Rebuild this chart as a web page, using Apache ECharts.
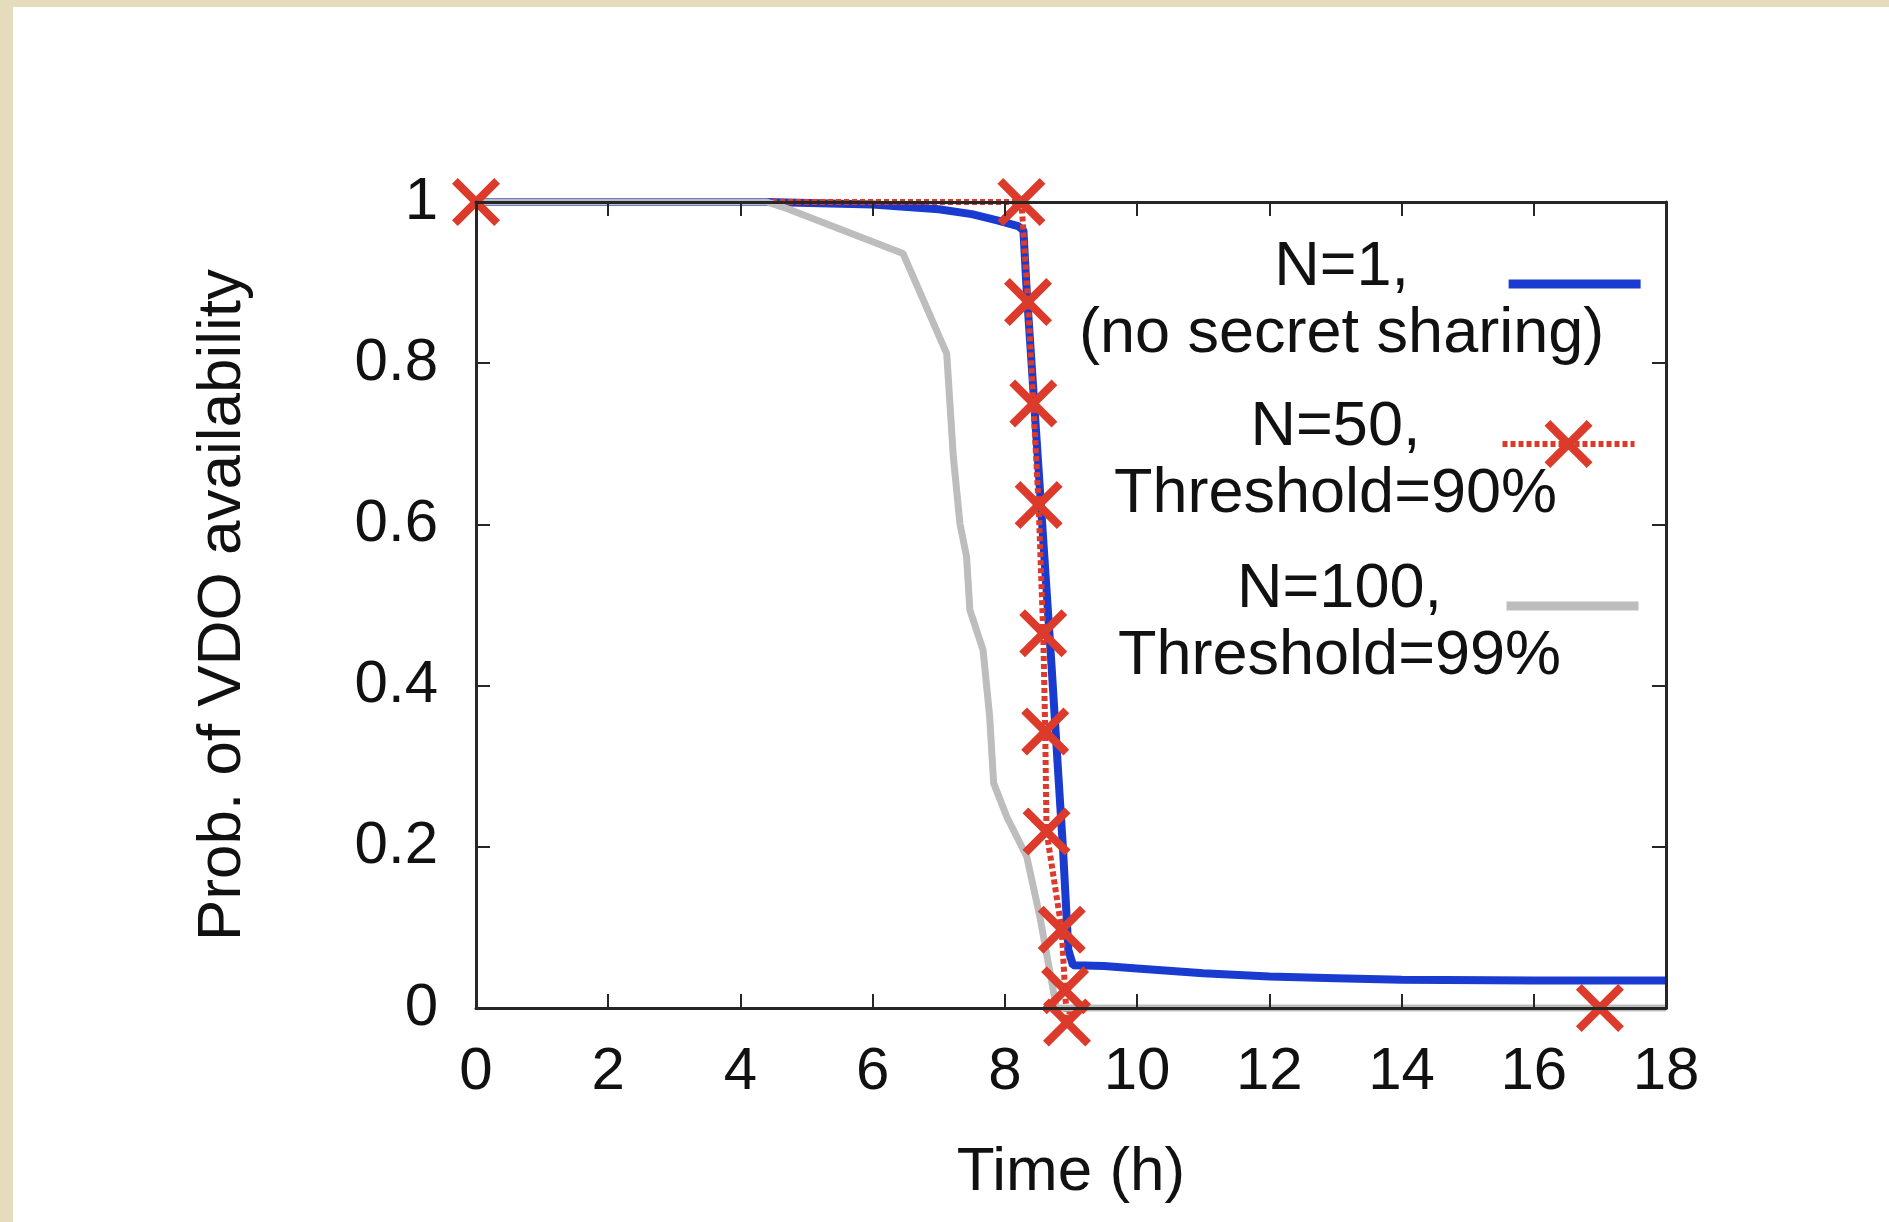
<!DOCTYPE html>
<html>
<head>
<meta charset="utf-8">
<script src="https://cdn.jsdelivr.net/npm/echarts@6/dist/echarts.min.js"></script>
<style>
  html, body { margin: 0; padding: 0; background: #e4dcbc; }
  #paper { position: absolute; left: 13px; top: 7px; right: 0; bottom: 0; background: #ffffff; }
  #chart { position: absolute; left: 0; top: 0; width: 1889px; height: 1222px; }
</style>
</head>
<body>
<div id="paper"></div>
<div id="chart"></div>
<script>
// N=1 (no secret sharing)
var timeN1  = [0, 4.4, 6, 7, 7.5, 7.9, 8.2, 8.28, 8.33, 8.43, 8.53, 8.63, 8.71, 8.8, 8.88, 8.96, 9.03, 9.5, 10, 11, 12, 13, 14, 16, 18];
var availN1 = [1, 1, 0.997, 0.991, 0.985, 0.977, 0.97, 0.965, 0.89, 0.767, 0.643, 0.519, 0.419, 0.3, 0.196, 0.072, 0.053, 0.052, 0.049, 0.043, 0.039, 0.037, 0.035, 0.034, 0.034];

// N=50, threshold 90%  (marked = 1 -> draw an X at that point)
var timeN50   = [0, 8.25, 8.35, 8.43, 8.51, 8.58, 8.61, 8.63, 8.86, 8.91, 8.94, 9.0, 17.0, 18];
var availN50  = [1, 1, 0.876, 0.75, 0.624, 0.465, 0.343, 0.219, 0.097, 0.022, -0.018, 0, 0, 0];
var markedN50 = [1, 1, 1, 1, 1, 1, 1, 1, 1, 1, 1, 0, 1, 0];

// N=100, threshold 99%
var timeN100  = [0, 4.4, 4.7, 6.46, 7.12, 7.22, 7.32, 7.42, 7.47, 7.67, 7.77, 7.83, 8.03, 8.33, 8.53, 8.78, 18];
var availN100 = [1, 1, 0.992, 0.936, 0.812, 0.684, 0.601, 0.56, 0.494, 0.444, 0.361, 0.279, 0.237, 0.188, 0.113, 0, 0];

var seriesNames = ['N1', 'N50', 'N100'];
var legendLines = [
  ['N=1,', '(no secret sharing)'],
  ['N=50,', 'Threshold=90%'],
  ['N=100,', 'Threshold=99%']
];
var xTicks = [0, 18, 2];
var yTicks = [0, 1, 0.2];

var FONT = "'Liberation Sans', Arial, Helvetica, sans-serif";
var BLUE = '#1a3bd0', RED = '#dc3a2a', GRAY = '#bdbdbd', INK = '#111111', AXIS = '#262626';
var xMark = 'path://M0,1.2L1.2,0L5,3.8L8.8,0L10,1.2L6.2,5L10,8.8L8.8,10L5,6.2L1.2,10L0,8.8L3.8,5Z';

function pairs(xs, ys) {
  return xs.map(function (x, i) { return [x, ys[i]]; });
}

var n50Data = timeN50.map(function (x, i) {
  var item = { value: [x, availN50[i]] };
  if (!markedN50[i]) item.symbol = 'none';
  return item;
});

function legendFor(idx, left, top, iconH, icon) {
  var item = { name: seriesNames[idx] };
  if (icon) item.icon = icon;
  return {
    data: [item],
    left: left, top: top, padding: 0,
    orient: 'vertical', align: 'right',
    itemWidth: 132, itemHeight: iconH,
    selectedMode: false,
    lineStyle: { width: 6 },
    formatter: function () {
      return '{e| }\n{t|' + legendLines[idx][0] + '}\n{t|' + legendLines[idx][1] + '}';
    },
    textStyle: {
      rich: {
        e: { fontSize: 10, lineHeight: 35 },
        t: { fontFamily: FONT, fontSize: 63, lineHeight: 67, color: INK, width: 324, align: 'center' }
      }
    }
  };
}

var chart = echarts.init(document.getElementById('chart'), null, { renderer: 'canvas' });

var axisLineStyle = { show: true, onZero: false, lineStyle: { color: AXIS, width: 3 } };
var tickStyle = { show: true, inside: true, length: 14, lineStyle: { color: AXIS, width: 2 } };

chart.setOption({
  backgroundColor: 'transparent',
  animation: false,
  textStyle: { fontFamily: FONT },
  grid: { left: 476, top: 202, width: 1190, height: 806, containLabel: false },
  legend: [
    legendFor(0, 1079, 212, 9, 'rect'),
    legendFor(1, 1114, 372, 60, null),
    legendFor(2, 1118, 534, 9, 'rect')
  ],
  xAxis: [{
    type: 'value', min: xTicks[0], max: xTicks[1], interval: xTicks[2],
    position: 'bottom', z: 5,
    name: 'Time (h)', nameLocation: 'middle', nameGap: 134,
    nameTextStyle: { fontFamily: FONT, fontSize: 62, color: INK },
    axisLine: axisLineStyle, axisTick: tickStyle,
    axisLabel: { fontFamily: FONT, fontSize: 60, color: INK, margin: 34 },
    splitLine: { show: false }
  }, {
    type: 'value', min: xTicks[0], max: xTicks[1], interval: xTicks[2],
    position: 'top', z: 5,
    axisLine: axisLineStyle, axisTick: tickStyle,
    axisLabel: { show: false }, splitLine: { show: false }
  }],
  yAxis: [{
    type: 'value', min: yTicks[0], max: yTicks[1], interval: yTicks[2],
    position: 'left', z: 5,
    name: 'Prob. of VDO availability', nameLocation: 'middle', nameGap: 222,
    nameTextStyle: { fontFamily: FONT, fontSize: 62, color: INK },
    axisLine: axisLineStyle, axisTick: tickStyle,
    axisLabel: { fontFamily: FONT, fontSize: 60, color: INK, margin: 38 },
    splitLine: { show: false }
  }, {
    type: 'value', min: yTicks[0], max: yTicks[1], interval: yTicks[2],
    position: 'right', z: 5,
    axisLine: axisLineStyle, axisTick: tickStyle,
    axisLabel: { show: false }, splitLine: { show: false }
  }],
  series: [
    {
      name: 'N1', type: 'line', data: pairs(timeN1, availN1),
      symbol: 'none', clip: false,
      itemStyle: { color: BLUE },
      lineStyle: { color: BLUE, width: 8 }
    },
    {
      name: 'N50', type: 'line', data: n50Data,
      symbol: xMark, symbolSize: 48, showAllSymbol: true, clip: false,
      itemStyle: { color: RED },
      lineStyle: { color: RED, width: 6, type: [5, 3] }
    },
    {
      name: 'N100', type: 'line', data: pairs(timeN100, availN100),
      symbol: 'none', clip: false,
      itemStyle: { color: GRAY },
      lineStyle: { color: GRAY, width: 7 }
    }
  ]
});
</script>
</body>
</html>
